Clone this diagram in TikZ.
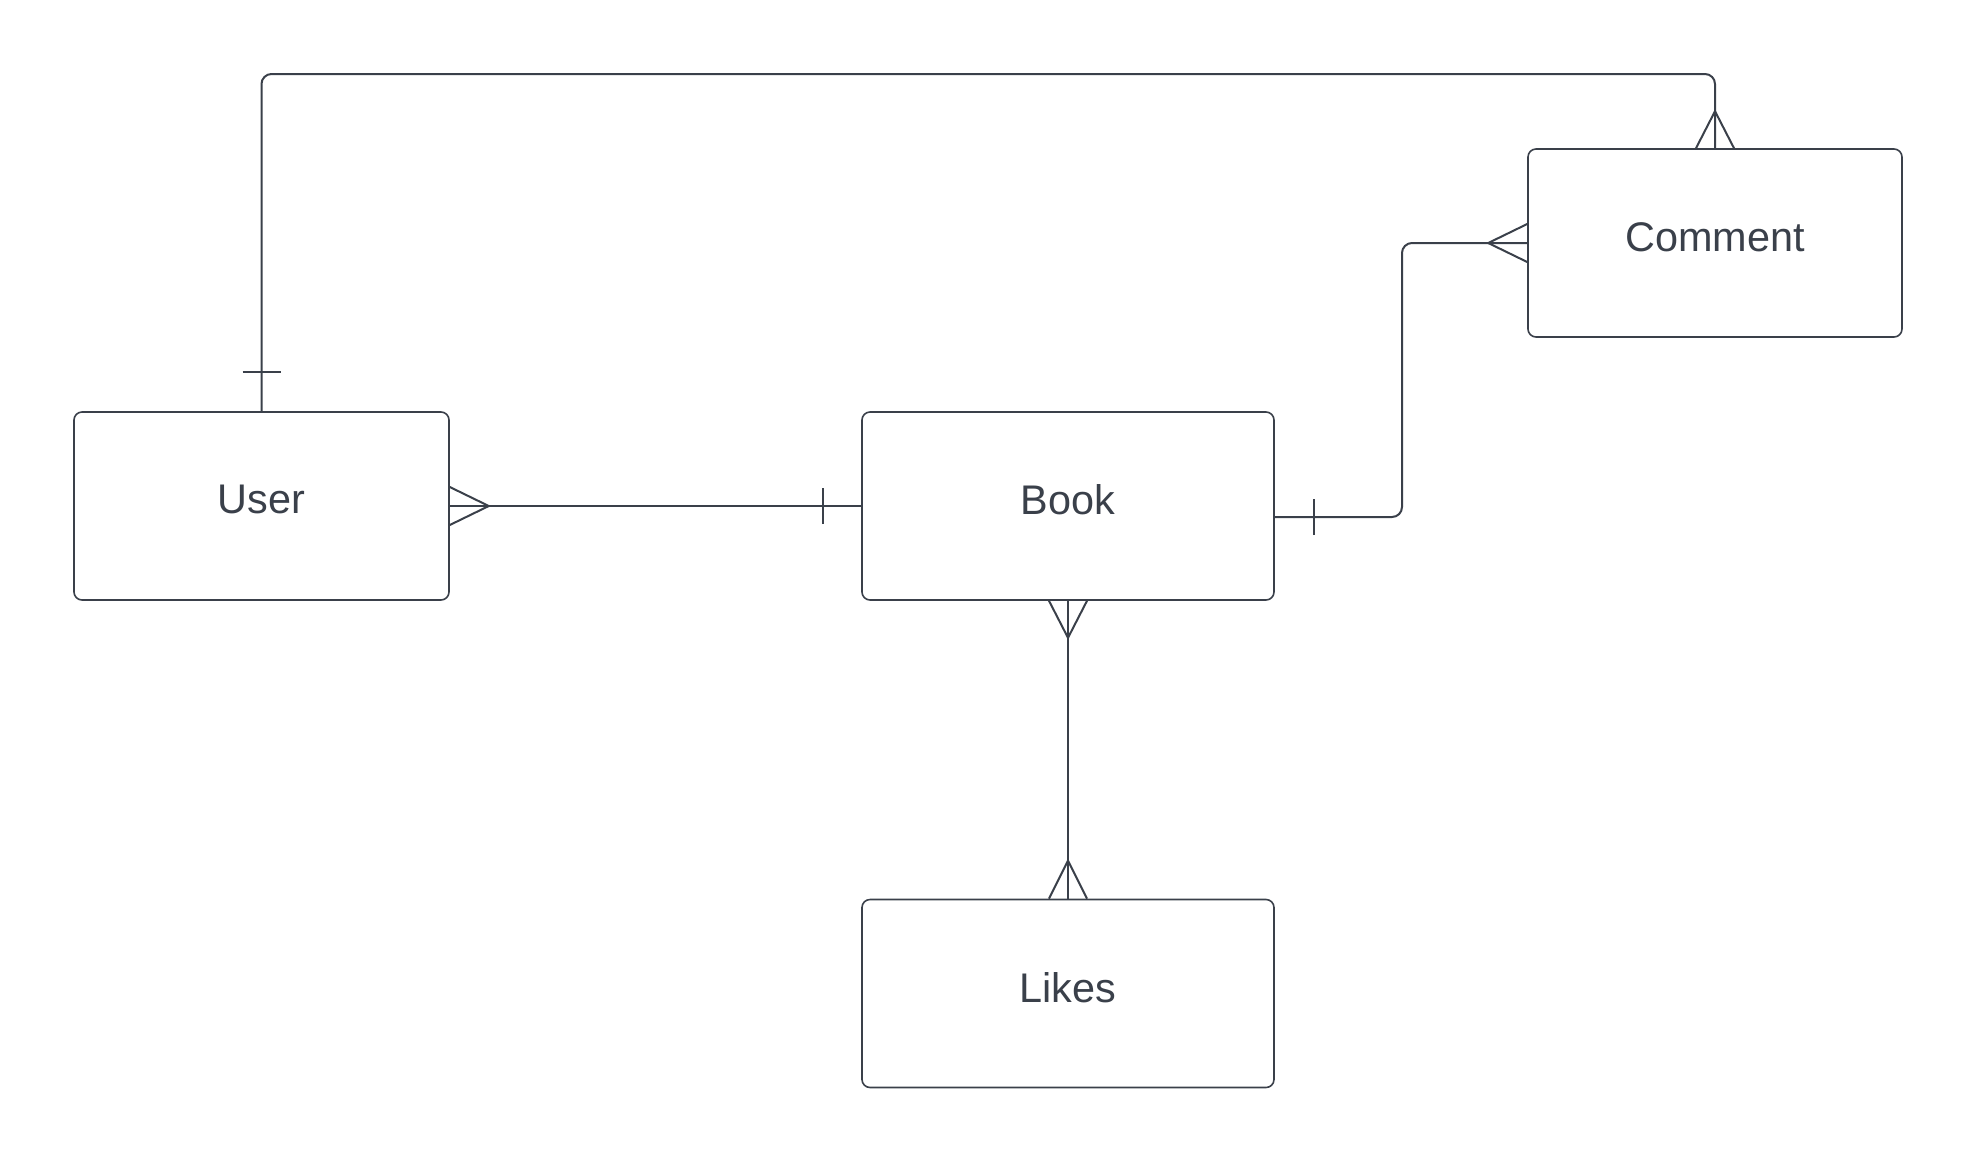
\documentclass[tikz,border=0pt]{standalone}
\usepackage{fontspec}
\setmainfont{Liberation Sans}
\usepackage{tikz}
\definecolor{ink}{HTML}{3A404A}
\tikzstyle{entity} = [draw=ink,line width=0.8pt,rounded corners=4pt,
    text=ink,font=\fontsize{20.7}{24}\selectfont,text depth=6.4pt,
    minimum height=94pt,inner sep=0pt]
\tikzstyle{rel} = [draw=ink,line width=1pt,rounded corners=5pt]
\newcommand{\manyx}[2]{
    \draw[rel,rounded corners=0pt] ([yshift=-9.5pt]#1) -- ([xshift=#2]#1) -- ([yshift=9.5pt]#1);
}
\newcommand{\manyy}[2]{
    \draw[rel,rounded corners=0pt] ([xshift=-9.5pt]#1) -- ([yshift=#2]#1) -- ([xshift=9.5pt]#1);
}
\newcommand{\onex}[2]{
    \draw[rel] ([xshift=#2,yshift=-9pt]#1) -- ([xshift=#2,yshift=9pt]#1);
}
\newcommand{\oney}[2]{
    \draw[rel] ([yshift=#2,xshift=-9.5pt]#1) -- ([yshift=#2,xshift=9.5pt]#1);
}

\begin{document}
\begin{tikzpicture}[x=0.5pt,y=-0.5pt]
	\useasboundingbox (0,0) rectangle (1978,1164);

	\node(user) at (261.5,506) [entity,minimum width=187.5pt] {User};
	\node(book) at (1068,506) [entity,minimum width=206pt] {Book};
	\node(comment) at (1715,243) [entity,minimum width=187pt] {Comment};
	\node(likes) at (1068,993.5) [entity,minimum width=206pt] {Likes};

	% user -- book
	\draw[rel] (user.east) -- (book.west);
	\manyx{user.east}{19.5pt};
	\onex{book.west}{-19pt};

	% book -- comment
	\coordinate(bookout) at ([yshift=-5.5pt]book.east);
	\coordinate(jog) at (1402,0);
	\draw[rel] (bookout) -| (jog |- comment.west) -- (comment.west);
	\onex{bookout}{19.5pt};
	\manyx{comment.west}{-19.5pt};

	% book -- likes
	\draw[rel] (book.south) -- (likes.north);
	\manyy{book.south}{-18.5pt};
	\manyy{likes.north}{19pt};

	% user -- comment
	\coordinate(top) at (0,74);
	\draw[rel] (user.north) -- (user.north |- top) -| (comment.north);
	\oney{user.north}{19.5pt};
	\manyy{comment.north}{18.5pt};
\end{tikzpicture}
\end{document}
